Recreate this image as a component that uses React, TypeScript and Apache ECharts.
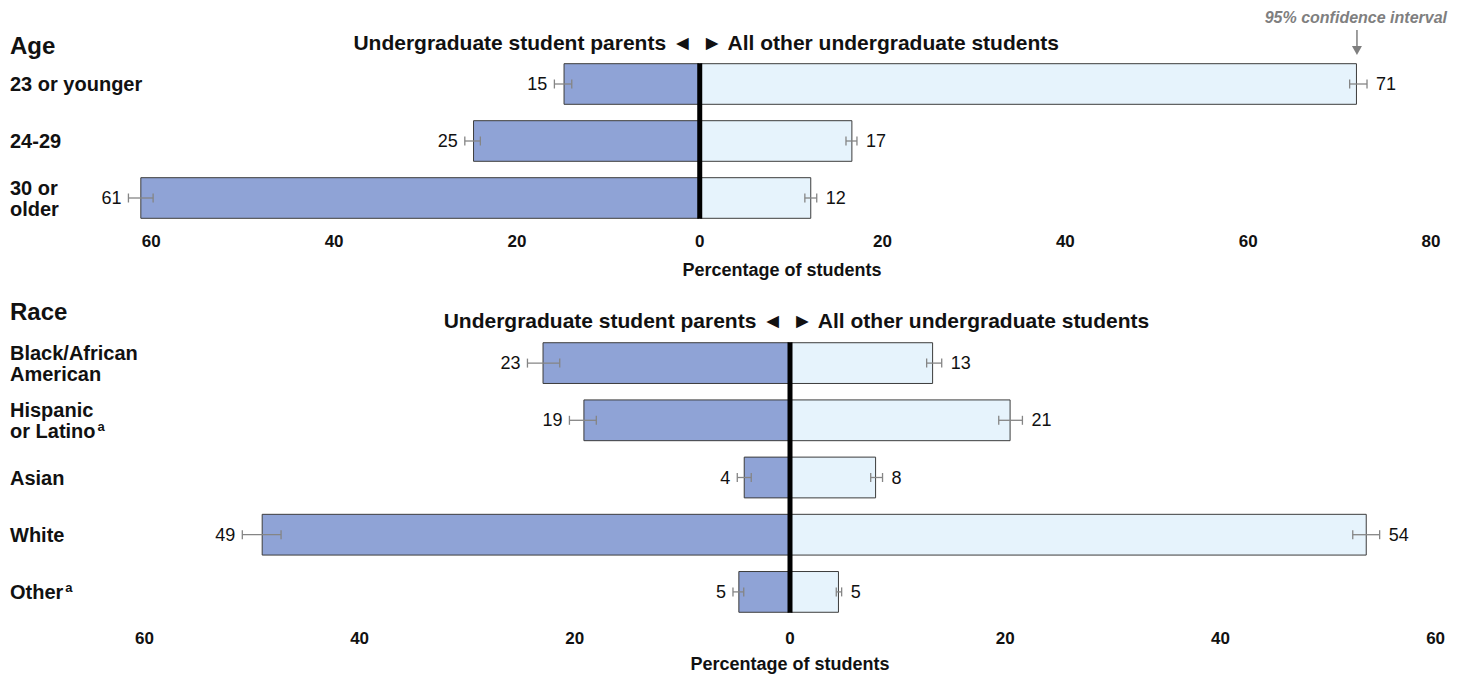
import React, { useEffect, useRef } from "react";
import * as echarts from "echarts";

// ---------- Data ----------
const ageCategories = ["23 or younger", "24-29", "30 or\nolder"];
const ageFootnotes = ["", "", ""];
const ageParents = [14.9, 24.8, 61.2];
const ageParentsLow = [14.0, 24.0, 59.8];
const ageParentsHigh = [15.9, 25.7, 62.5];
const ageParentsLabels = ["15", "25", "61"];
const ageOthers = [71.9, 16.7, 12.2];
const ageOthersLow = [71.1, 16.0, 11.5];
const ageOthersHigh = [73.0, 17.2, 12.8];
const ageOthersLabels = ["71", "17", "12"];

const raceCategories = ["Black/African\nAmerican", "Hispanic\nor Latino", "Asian", "White", "Other"];
const raceFootnotes = ["", "a", "", "", "a"];
const raceParents = [23.0, 19.2, 4.3, 49.1, 4.8];
const raceParentsLow = [21.4, 18.0, 3.6, 47.3, 4.3];
const raceParentsHigh = [24.4, 20.5, 4.9, 50.9, 5.3];
const raceParentsLabels = ["23", "19", "4", "49", "5"];
const raceOthers = [13.3, 20.5, 8.0, 53.6, 4.55];
const raceOthersLow = [12.7, 19.4, 7.5, 52.3, 4.3];
const raceOthersHigh = [14.1, 21.6, 8.6, 54.8, 4.8];
const raceOthersLabels = ["13", "21", "8", "54", "5"];

const ageTicks = [-60, -40, -20, 0, 20, 40, 60, 80];
const raceTicks = [-60, -40, -20, 0, 20, 40, 60];

const sectionTitles = ["Age", "Race"];
const headerLeft = "Undergraduate student parents \u25C4";
const headerRight = "\u25BA All other undergraduate students";
const axisTitle = "Percentage of students";
const ciNote = "95% confidence interval";

// ---------- Styles ----------
const FONT = "'Liberation Sans', Arial, Helvetica, sans-serif";
const PARENT_COLOR = "#8fa3d6";
const OTHER_COLOR = "#e6f3fc";
const BORDER = "#3c3c3c";
const ERR_COLOR = "#858585";
const BAR_RATIO = 0.73;

function errorSeries(gridIdx: number, low: number[], high: number[], labels: string[], side: number) {
  return {
    type: "custom",
    xAxisIndex: gridIdx,
    yAxisIndex: gridIdx,
    z: 5,
    clip: false,
    encode: { x: [0, 1], y: 2 },
    data: low.map((l, i) => [side * l, side * high[i], i]),
    renderItem: (params: any, api: any) => {
      const a = api.coord([api.value(0), api.value(2)]);
      const b = api.coord([api.value(1), api.value(2)]);
      const y = a[1];
      const x1 = Math.min(a[0], b[0]);
      const x2 = Math.max(a[0], b[0]);
      const st = { stroke: ERR_COLOR, lineWidth: 1.3 };
      const label = labels[params.dataIndex];
      return {
        type: "group",
        children: [
          { type: "line", shape: { x1, y1: y, x2, y2: y }, style: st },
          { type: "line", shape: { x1, y1: y - 4.5, x2: x1, y2: y + 4.5 }, style: st },
          { type: "line", shape: { x1: x2, y1: y - 4.5, x2, y2: y + 4.5 }, style: st },
          {
            type: "text",
            x: side < 0 ? x1 - 7 : x2 + 9,
            y,
            style: {
              text: label,
              fill: "#111",
              font: `18px ${FONT}`,
              textAlign: side < 0 ? "right" : "left",
              textVerticalAlign: "middle",
            },
          },
        ],
      };
    },
  };
}

function zeroLineSeries(gridIdx: number, n: number) {
  return {
    type: "custom",
    xAxisIndex: gridIdx,
    yAxisIndex: gridIdx,
    z: 6,
    clip: false,
    encode: { x: 0, y: 1 },
    data: [[0, 0]],
    renderItem: (params: any, api: any) => {
      const top = api.coord([0, 0]);
      const bot = api.coord([0, n - 1]);
      const band = api.size([0, 1])[1];
      const half = (band * BAR_RATIO) / 2;
      return {
        type: "line",
        shape: { x1: top[0], y1: top[1] - half, x2: top[0], y2: bot[1] + half },
        style: { stroke: "#000", lineWidth: 5 },
      };
    },
  };
}

function barSeries(gridIdx: number, values: number[], side: number, color: string) {
  return {
    type: "bar",
    xAxisIndex: gridIdx,
    yAxisIndex: gridIdx,
    data: values.map((v) => side * v),
    barWidth: `${BAR_RATIO * 100}%`,
    barGap: "-100%",
    itemStyle: { color, borderColor: BORDER, borderWidth: 1 },
    z: 2,
  };
}

function xAxisDef(gridIdx: number, min: number, max: number, ticks: number[], margin: number) {
  return {
    type: "value",
    gridIndex: gridIdx,
    min,
    max,
    splitLine: { show: false },
    axisLine: { show: false },
    axisTick: { show: false },
    axisLabel: {
      customValues: ticks,
      formatter: (v: number) => String(Math.abs(Math.round(v))),
      fontFamily: FONT,
      fontWeight: "bold",
      fontSize: 17,
      color: "#111",
      margin,
    },
    name: axisTitle,
    nameLocation: "middle",
    nameGap: 34,
    nameTextStyle: { fontFamily: FONT, fontWeight: "bold", fontSize: 18, color: "#111" },
  };
}

function yAxisDef(gridIdx: number, cats: string[], notes: string[], margin: number) {
  return {
    type: "category",
    gridIndex: gridIdx,
    data: cats,
    inverse: true,
    axisLine: { show: false, onZero: false },
    axisTick: { show: false },
    splitLine: { show: false },
    axisLabel: {
      align: "left",
      margin,
      fontFamily: FONT,
      fontWeight: "bold",
      fontSize: 20,
      lineHeight: 21,
      color: "#111",
      formatter: (v: string, i: number) => (notes[i] ? `${v}{sup|${notes[i]}}` : v),
      rich: {
        sup: {
          fontFamily: FONT,
          fontWeight: "bold",
          fontSize: 13,
          lineHeight: 14,
          verticalAlign: "top",
          padding: [0, 0, 0, 2],
          color: "#111",
        },
      },
    },
  };
}

export default function App() {
  const ref = useRef<HTMLDivElement>(null);
  useEffect(() => {
    if (!ref.current) return;
    const chart = echarts.init(ref.current, null, { renderer: "svg" });
    const option: any = {
      animation: false,
      backgroundColor: "#fff",
      textStyle: { fontFamily: FONT },
      grid: [
        { left: 133, right: 32, top: 55.5, height: 171 },
        { left: 144.4, right: 27.4, top: 334.5, height: 286 },
      ],
      xAxis: [xAxisDef(0, -62, 80, ageTicks, 6), xAxisDef(1, -60, 60, raceTicks, 9)],
      yAxis: [
        yAxisDef(0, ageCategories, ageFootnotes, 123),
        yAxisDef(1, raceCategories, raceFootnotes, 134.4),
      ],
      series: [
        barSeries(0, ageParents, -1, PARENT_COLOR),
        barSeries(0, ageOthers, 1, OTHER_COLOR),
        errorSeries(0, ageParentsLow, ageParentsHigh, ageParentsLabels, -1),
        errorSeries(0, ageOthersLow, ageOthersHigh, ageOthersLabels, 1),
        zeroLineSeries(0, ageCategories.length),
        barSeries(1, raceParents, -1, PARENT_COLOR),
        barSeries(1, raceOthers, 1, OTHER_COLOR),
        errorSeries(1, raceParentsLow, raceParentsHigh, raceParentsLabels, -1),
        errorSeries(1, raceOthersLow, raceOthersHigh, raceOthersLabels, 1),
        zeroLineSeries(1, raceCategories.length),
      ],
    };
    chart.setOption(option);

    const z0 = chart.convertToPixel({ xAxisIndex: 0 }, 0) as number;
    const z1 = chart.convertToPixel({ xAxisIndex: 1 }, 0) as number;
    const arrowX = chart.convertToPixel({ xAxisIndex: 0 }, ageOthers[0]) as number;
    const headerFont = `bold 21px ${FONT}`;
    const titleFont = `bold 24px ${FONT}`;
    chart.setOption({
      graphic: [
        { type: "text", x: 10, y: 45, style: { text: sectionTitles[0], font: titleFont, fill: "#111", textVerticalAlign: "middle" } },
        { type: "text", x: 10, y: 311, style: { text: sectionTitles[1], font: titleFont, fill: "#111", textVerticalAlign: "middle" } },
        { type: "text", x: z0 - 7, y: 42, style: { text: headerLeft, font: headerFont, fill: "#111", textAlign: "right", textVerticalAlign: "middle" } },
        { type: "text", x: z0 + 2, y: 42, style: { text: headerRight, font: headerFont, fill: "#111", textAlign: "left", textVerticalAlign: "middle" } },
        { type: "text", x: z1 - 7, y: 320, style: { text: headerLeft, font: headerFont, fill: "#111", textAlign: "right", textVerticalAlign: "middle" } },
        { type: "text", x: z1 + 2, y: 320, style: { text: headerRight, font: headerFont, fill: "#111", textAlign: "left", textVerticalAlign: "middle" } },
        { type: "text", x: 1447, y: 17, style: { text: ciNote, font: `italic bold 16px ${FONT}`, fill: "#7f7f7f", textAlign: "right", textVerticalAlign: "middle" } },
        { type: "line", shape: { x1: arrowX, y1: 30, x2: arrowX, y2: 48 }, style: { stroke: "#7f7f7f", lineWidth: 1.5 } },
        { type: "polygon", shape: { points: [[arrowX - 5, 46], [arrowX + 5, 46], [arrowX, 55]] }, style: { fill: "#7f7f7f" } },
      ],
    });
    return () => chart.dispose();
  }, []);
  return <div ref={ref} style={{ position: "fixed", left: 0, top: 0, width: 1463, height: 677 }} />;
}
